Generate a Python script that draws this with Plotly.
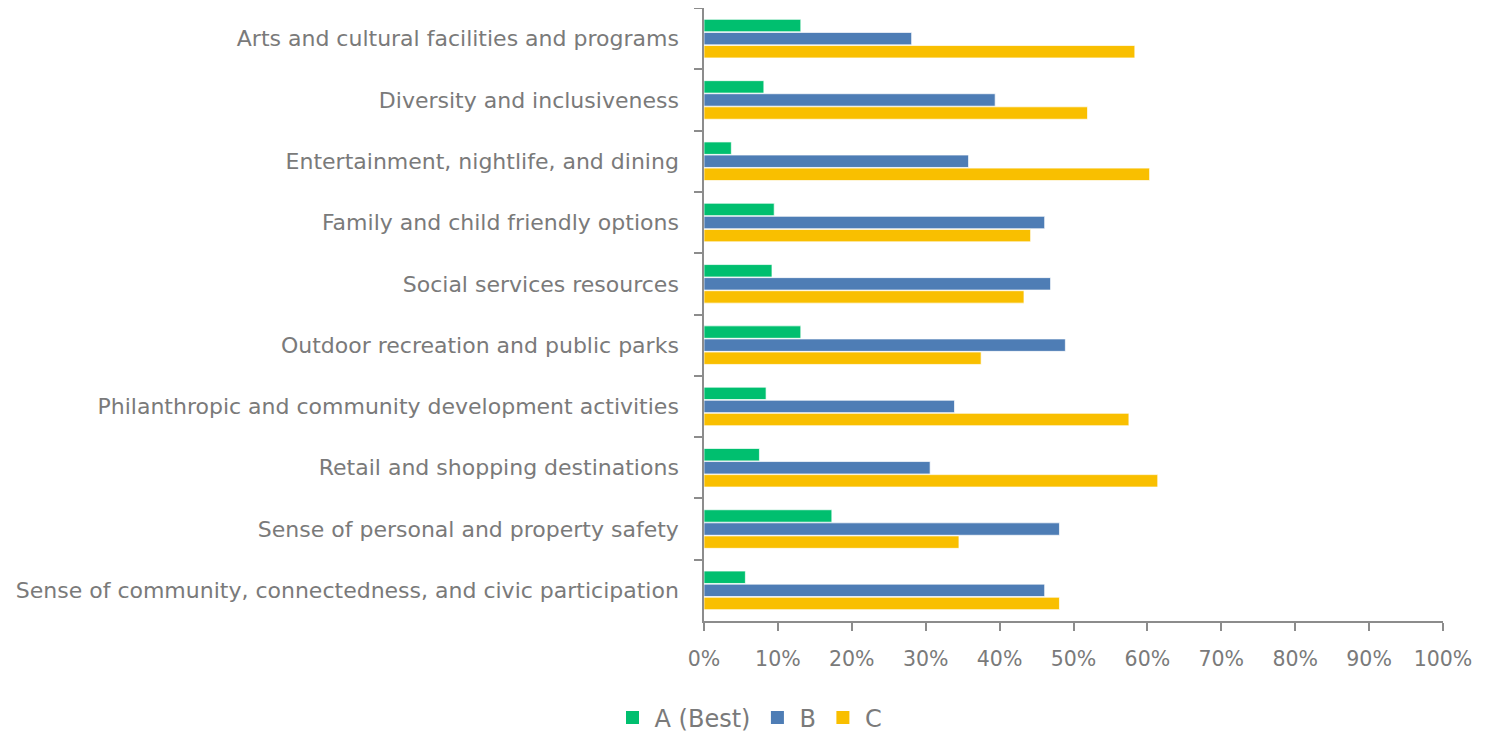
import plotly.graph_objects as go

categories = [
    "Arts and cultural facilities and programs",
    "Diversity and inclusiveness",
    "Entertainment, nightlife, and dining",
    "Family and child friendly options",
    "Social services resources",
    "Outdoor recreation and public parks",
    "Philanthropic and community development activities",
    "Retail and shopping destinations",
    "Sense of personal and property safety",
    "Sense of community, connectedness, and civic participation",
]
series_names = ["A (Best)", "B", "C"]
a_best = [0.131, 0.081, 0.037, 0.095, 0.092, 0.131, 0.084, 0.075, 0.173, 0.056]
b_vals = [0.281, 0.394, 0.358, 0.461, 0.469, 0.489, 0.339, 0.306, 0.481, 0.461]
c_vals = [0.583, 0.519, 0.603, 0.442, 0.433, 0.375, 0.575, 0.614, 0.345, 0.481]
x_ticks = [i / 10 for i in range(11)]
x_tick_labels = [f"{i*10}%" for i in range(11)]

colors = ["#00BF6F", "#4E7DB5", "#F9BF00"]
font_family = "DejaVu Sans, Verdana, sans-serif"
gray = "#7A7A7A"

fig = go.Figure()
for name, vals, col in zip(series_names, [a_best, b_vals, c_vals], colors):
    fig.add_trace(go.Bar(
        y=categories, x=vals, name=name, orientation="h", showlegend=False,
        marker=dict(color=col, line=dict(color="rgba(255,255,255,0.7)", width=1)),
    ))
# legend entries with square symbols
for name, col in zip(series_names, colors):
    fig.add_trace(go.Scatter(
        x=[None], y=[None], mode="markers", name=name,
        marker=dict(symbol="square", size=13, color=col),
    ))

fig.update_layout(
    width=1482, height=728,
    margin=dict(l=696, r=47, t=0, b=115),
    barmode="group", bargap=0.36, bargroupgap=0.05,
    plot_bgcolor="white", paper_bgcolor="white",
    font=dict(family=font_family, color=gray, size=22),
    showlegend=True,
    legend=dict(orientation="h", xref="container", x=0.5, xanchor="center",
                yref="container", y=0.025, yanchor="middle",
                font=dict(size=24, color=gray, family=font_family),
                itemwidth=34, traceorder="normal"),
    xaxis=dict(
        range=[0, 1], tickvals=x_ticks, ticktext=x_tick_labels,
        showgrid=False, zeroline=False, showline=True, linecolor="#8C8C8C", linewidth=1.5,
        ticks="outside", ticklen=8, tickcolor="#8C8C8C", tickwidth=1.5,
        tickfont=dict(size=20.5, color=gray), ticklabelstandoff=11, fixedrange=True,
    ),
    yaxis=dict(
        autorange="reversed", type="category",
        showgrid=False, showline=True, linecolor="#8C8C8C", linewidth=1.5,
        ticks="outside", tickson="boundaries", ticklen=8, tickcolor="#8C8C8C", tickwidth=1.5,
        tickfont=dict(size=22, color=gray), ticksuffix="  ", ticklabelstandoff=5,
    ),
)

fig.write_html("out.html")
